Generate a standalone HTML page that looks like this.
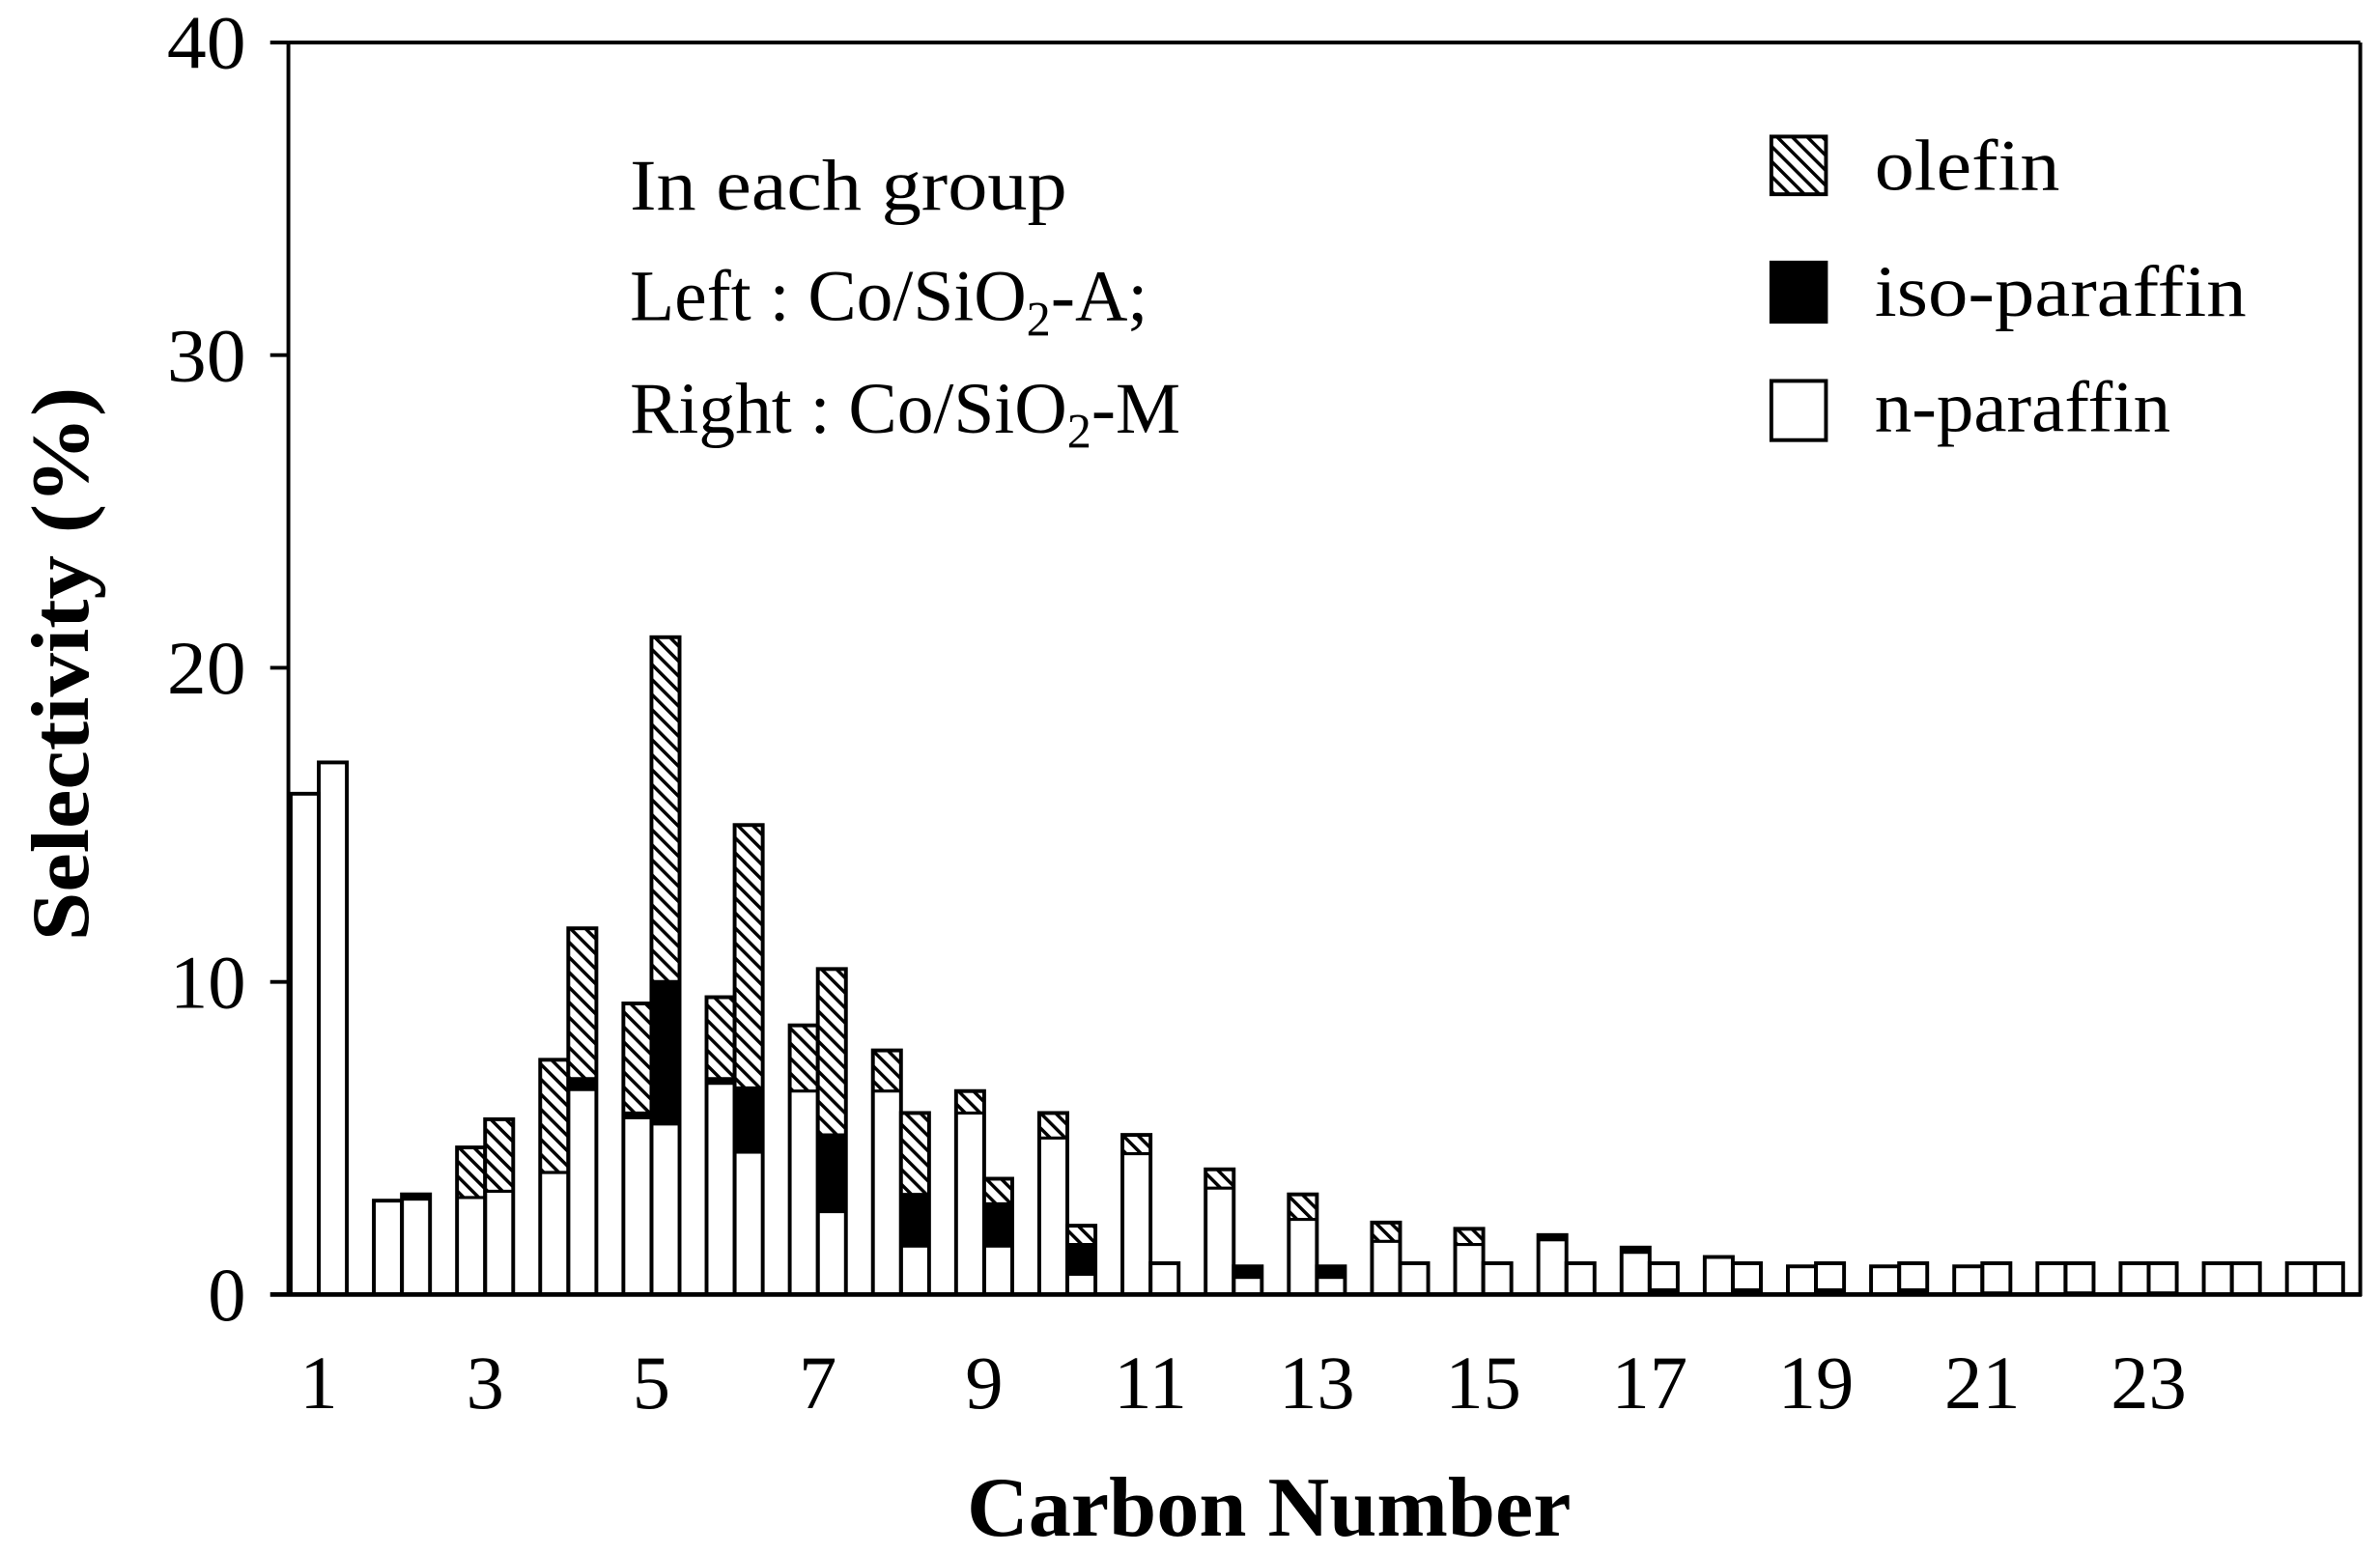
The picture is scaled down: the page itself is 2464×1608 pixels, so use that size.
<!DOCTYPE html>
<html><head><meta charset="utf-8"><style>
html,body{margin:0;padding:0;background:#fff;}
svg{display:block;}
text{font-family:"Liberation Serif",serif;fill:#000;}
</style></head><body>
<svg id="s" width="2464" height="1608" viewBox="0 0 1568 1023.3" preserveAspectRatio="none" xmlns="http://www.w3.org/2000/svg">
<defs>
<pattern id="h" patternUnits="userSpaceOnUse" width="7" height="7" patternTransform="rotate(-45)">
<rect width="7" height="7" fill="#fff"/><rect x="0" y="0" width="2.2" height="7" fill="#000"/>
</pattern>
</defs>
<g id="bars"></g>
<line x1="190" y1="28" x2="1555" y2="28" stroke="#000" stroke-width="2.5"/>
<line x1="1555" y1="28" x2="1555" y2="854" stroke="#000" stroke-width="2.5"/>
<line x1="190" y1="28" x2="190" y2="854" stroke="#000" stroke-width="2.5"/>
<line x1="178" y1="853" x2="1556" y2="853" stroke="#000" stroke-width="3"/>
<g stroke="#000" stroke-width="2.5">
<line x1="178" y1="28" x2="190" y2="28"/><line x1="178" y1="234" x2="190" y2="234"/>
<line x1="178" y1="440" x2="190" y2="440"/><line x1="178" y1="647" x2="190" y2="647"/>
</g>
<g font-size="50" text-anchor="end">
<text x="162" y="45" textLength="52" lengthAdjust="spacingAndGlyphs">40</text>
<text x="162" y="251" textLength="52" lengthAdjust="spacingAndGlyphs">30</text>
<text x="162" y="457" textLength="52" lengthAdjust="spacingAndGlyphs">20</text>
<text x="162" y="664">10</text><text x="162" y="870">0</text>
</g>
<g font-size="50" text-anchor="middle" id="xl"></g>
<text x="637" y="1012" font-size="56" font-weight="bold" textLength="398" lengthAdjust="spacingAndGlyphs">Carbon Number</text>
<text transform="translate(58,620) rotate(-90)" font-size="54" font-weight="bold" textLength="365" lengthAdjust="spacingAndGlyphs">Selectivity (%)</text>
<g font-size="48">
<text x="415" y="138" textLength="288" lengthAdjust="spacingAndGlyphs">In each group</text>
<text x="415" y="211">Left : Co/SiO<tspan font-size="32" dy="10">2</tspan><tspan dy="-10">-A;</tspan></text>
<text x="415" y="285">Right : Co/SiO<tspan font-size="32" dy="10">2</tspan><tspan dy="-10">-M</tspan></text>
<text x="1235" y="125" textLength="122" lengthAdjust="spacingAndGlyphs">olefin</text>
<text x="1235" y="208" textLength="245" lengthAdjust="spacingAndGlyphs">iso-paraffin</text>
<text x="1235" y="284" textLength="195" lengthAdjust="spacingAndGlyphs">n-paraffin</text>
</g>
<rect x="1167" y="90" width="36" height="38" fill="url(#h)" stroke="#000" stroke-width="2.5"/>
<rect x="1167" y="173" width="36" height="39" fill="#000" stroke="#000" stroke-width="2.5"/>
<rect x="1167" y="251" width="36" height="39" fill="#fff" stroke="#000" stroke-width="2.5"/>
</svg>
<script>
var D=[
[[16,16,16],[17,17,17]],
[[3,3,3],[3,3.2,3.2]],
[[3.1,3.1,4.7],[3.3,3.3,5.6]],
[[3.9,3.9,7.5],[6.5,6.9,11.7]],
[[5.6,5.8,9.3],[5.4,10,21]],
[[6.7,6.9,9.5],[4.5,6.6,15]],
[[6.5,6.5,8.6],[2.6,5.1,10.4]],
[[6.5,6.5,7.8],[1.5,3.2,5.8]],
[[5.8,5.8,6.5],[1.5,2.9,3.7]],
[[5.0,5.0,5.8],[0.6,1.6,2.2]],
[[4.5,4.5,5.1],[1.0,1.0,1.0]],
[[3.4,3.4,4.0],[0.5,0.9,0.9]],
[[2.4,2.4,3.2],[0.5,0.9,0.9]],
[[1.7,1.7,2.3],[1.0,1.0,1.0]],
[[1.6,1.6,2.1],[1.0,1.0,1.0]],
[[1.7,1.9,1.9],[1.0,1.0,1.0]],
[[1.3,1.5,1.5],[-0.2]],
[[1.2,1.2,1.2],[-0.2]],
[[0.9,0.9,0.9],[-0.2]],
[[0.9,0.9,0.9],[-0.2]],
[[0.9,0.9,0.9],[-0.1]],
[[1,1,1],[-0.1]],
[[1,1,1],[-0.1]],
[[1,1,1],[1,1,1]],
[[1,1,1],[1,1,1]]];
var g=document.getElementById('bars'),s='',Y=function(v){return 853-v*20.625;},w=18.5;
D.forEach(function(p,i){var c=210+i*54.8;
p.forEach(function(b,j){var x=j?c:c-w;
if(b.length==1){var k=-b[0];
s+='<rect x="'+x+'" y="'+Y(k)+'" width="'+w+'" height="'+k*20.625+'" fill="#000"/>';
s+='<rect x="'+x+'" y="'+Y(1)+'" width="'+w+'" height="20.625" fill="none" stroke="#000" stroke-width="2.5"/>';return;}
if(b[2]>b[1])s+='<rect x="'+x+'" y="'+Y(b[2])+'" width="'+w+'" height="'+(b[2]-b[1])*20.625+'" fill="url(#h)"/>';
if(b[1]>b[0])s+='<rect x="'+x+'" y="'+Y(b[1])+'" width="'+w+'" height="'+(b[1]-b[0])*20.625+'" fill="#000"/>';
s+='<rect x="'+x+'" y="'+Y(b[2])+'" width="'+w+'" height="'+b[2]*20.625+'" fill="none" stroke="#000" stroke-width="2.5"/>';
if(b[2]>b[1]&&b[1]>0.05)s+='<line x1="'+x+'" x2="'+(x+w)+'" y1="'+Y(b[1])+'" y2="'+Y(b[1])+'" stroke="#000" stroke-width="2"/>';
});});
g.innerHTML=s;
var xl='';for(var n=1;n<=23;n+=2){xl+='<text x="'+(210+(n-1)*54.8)+'" y="928">'+n+'</text>';}
document.getElementById('xl').innerHTML=xl;
</script>
</body></html>
